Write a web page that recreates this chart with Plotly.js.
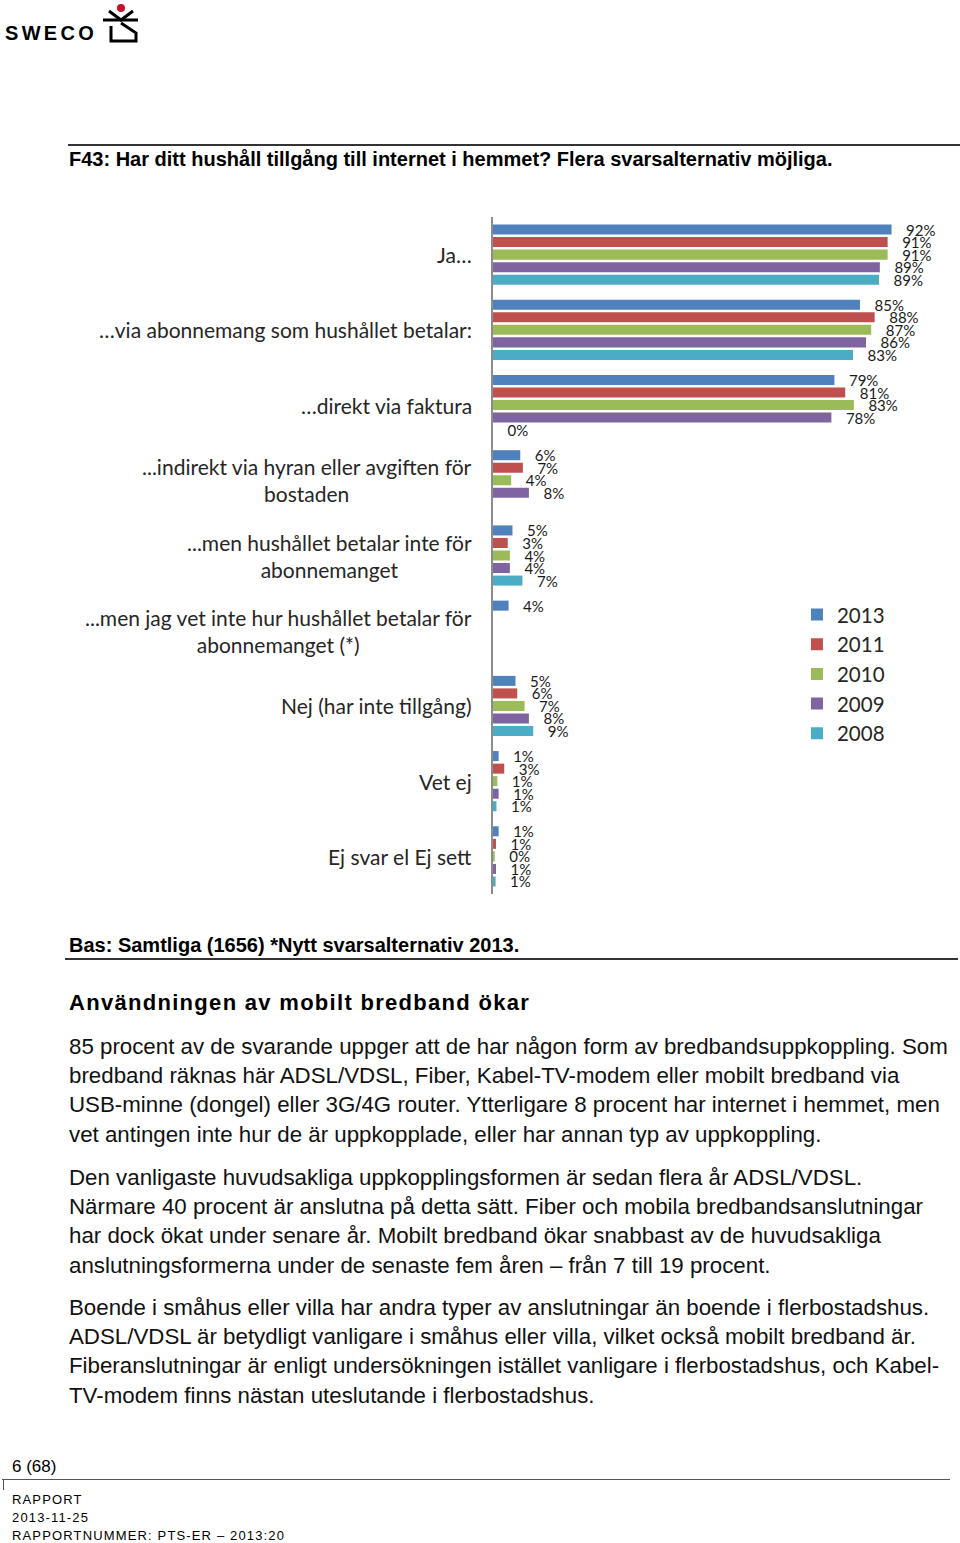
<!DOCTYPE html>
<html>
<head>
<meta charset="utf-8">
<script src="https://cdn.plot.ly/plotly-3.0.1.min.js"></script>
<style>
  html, body { margin:0; padding:0; }
  body { width:960px; height:1543px; position:relative; background:#fff; overflow:hidden;
         font-family:"Liberation Sans", Arial, sans-serif; color:#000; }
  .abs { position:absolute; white-space:nowrap; }
  .rule { position:absolute; background:#333; }
  #chart { position:absolute; left:0; top:200px; width:960px; height:720px; }
  .para { position:absolute; left:69px; font-size:22.3px; line-height:29.2px; white-space:nowrap; color:#111; }
</style>
</head>
<body>

<div class="abs" style="left:5px; top:20px; font-size:20px; font-weight:bold; letter-spacing:3.3px; line-height:26px;">SWECO</div>
<svg class="abs" style="left:100px; top:0px;" width="42" height="46" viewBox="100 0 42 46">
  <circle cx="121" cy="8" r="4" fill="#c8102e"/>
  <path d="M109 11 L121 20 L133 11" stroke="#000" stroke-width="3" fill="none"/>
  <path d="M103 20 L138 20" stroke="#000" stroke-width="3"/>
  <path d="M111 26 L111 41 L136 41 L136 33 L121 23" stroke="#000" stroke-width="3" fill="none"/>
</svg>

<div class="rule" style="left:68px; top:144px; width:892px; height:2px;"></div>
<div class="abs" style="left:69px; top:148px; font-size:20px; font-weight:bold; line-height:22px;">F43: Har ditt hushåll tillgång till internet i hemmet? Flera svarsalternativ möjliga.</div>

<div id="chart"></div>

<div class="abs" style="left:69px; top:934px; font-size:20px; font-weight:bold; line-height:22px;">Bas: Samtliga (1656) *Nytt svarsalternativ 2013.</div>
<div class="rule" style="left:65px; top:958px; width:893px; height:2px;"></div>

<div class="abs" style="left:69px; top:989px; font-size:22px; font-weight:bold; letter-spacing:1.3px; line-height:27px;">Användningen av mobilt bredband ökar</div>

<div class="para" style="top:1032px;">85 procent av de svarande uppger att de har någon form av bredbandsuppkoppling. Som<br>bredband räknas här ADSL/VDSL, Fiber, Kabel-TV-modem eller mobilt bredband via<br>USB-minne (dongel) eller 3G/4G router. Ytterligare 8 procent har internet i hemmet, men<br>vet antingen inte hur de är uppkopplade, eller har annan typ av uppkoppling.</div>
<div class="para" style="top:1163px;">Den vanligaste huvudsakliga uppkopplingsformen är sedan flera år ADSL/VDSL.<br>Närmare 40 procent är anslutna på detta sätt. Fiber och mobila bredbandsanslutningar<br>har dock ökat under senare år. Mobilt bredband ökar snabbast av de huvudsakliga<br>anslutningsformerna under de senaste fem åren – från 7 till 19 procent.</div>
<div class="para" style="top:1293px;">Boende i småhus eller villa har andra typer av anslutningar än boende i flerbostadshus.<br>ADSL/VDSL är betydligt vanligare i småhus eller villa, vilket också mobilt bredband är.<br>Fiberanslutningar är enligt undersökningen istället vanligare i flerbostadshus, och Kabel-<br>TV-modem finns nästan uteslutande i flerbostadshus.</div>

<div class="abs" style="left:12px; top:1456px; font-size:17px; line-height:22px;">6 (68)</div>
<div class="rule" style="left:2px; top:1479px; width:948px; height:1px; background:#555;"></div>
<div class="rule" style="left:3px; top:1479px; width:1px; height:11px; background:#555;"></div>
<div class="abs" style="left:12px; top:1491px; font-size:13px; line-height:18px; letter-spacing:1.15px;">RAPPORT<br>2013-11-25<br>RAPPORTNUMMER: PTS-ER – 2013:20</div>

<script>
// ---- data ----
const categories = [
  'Ja…',
  '…via abonnemang som hushållet betalar:',
  '…direkt via faktura',
  '...indirekt via hyran eller avgiften för<br>bostaden',
  '...men hushållet betalar inte för<br>abonnemanget',
  '...men jag vet inte hur hushållet betalar för<br>abonnemanget (*)',
  'Nej (har inte tillgång)',
  'Vet ej',
  'Ej svar el Ej sett'
];
const seriesNames = ['2013', '2011', '2010', '2009', '2008'];
const v2013 = [92.1, 84.8, 78.9, 6.3, 4.5, 3.6, 5.2, 1.3, 1.3];
const v2011 = [91.2, 88.2, 81.4, 6.9, 3.4, null, 5.6, 2.6, 0.7];
const v2010 = [91.2, 87.4, 83.4, 4.2, 3.9, null, 7.3, 1.0, 0.4];
const v2009 = [89.4, 86.2, 78.2, 8.3, 3.9, null, 8.3, 1.3, 0.7];
const v2008 = [89.2, 83.2, 0, null, 6.8, null, 9.3, 0.8, 0.6];
const seriesValues = [v2013, v2011, v2010, v2009, v2008];
const seriesColors = ['#4F81BD', '#C0504D', '#9BBB59', '#8064A2', '#4BACC6'];

const NB = '\u00a0\u00a0\u00a0';
const traces = seriesNames.map((name, i) => ({
  type: 'bar',
  orientation: 'h',
  name: name,
  y: categories,
  x: seriesValues[i],
  marker: { color: seriesColors[i] },
  text: seriesValues[i].map(v => v == null ? '' : NB + Math.round(v) + '%'),
  textposition: 'outside',
  constraintext: 'none',
  cliponaxis: false,
  textfont: { family: 'Lato, "Open Sans", sans-serif', size: 15, color: '#1a1a1a' },
  hoverinfo: 'skip'
}));

const annotations = categories.map(c => ({
  xref: 'paper', yref: 'y', x: 0, y: c,
  xanchor: 'right', yanchor: 'middle', xshift: -19,
  text: c, align: 'center', showarrow: false,
  font: { family: 'Lato, "Open Sans", sans-serif', size: 21, color: '#262626' }
}));

const layout = {
  width: 960, height: 720,
  margin: { l: 493, r: 20, t: 17, b: 26, pad: 0 },
  paper_bgcolor: 'rgba(0,0,0,0)',
  plot_bgcolor: 'rgba(0,0,0,0)',
  barmode: 'group',
  bargap: 0.1667,
  bargroupgap: 0.2,
  showlegend: true,
  legend: {
    x: 0.68, xanchor: 'left', y: 0.442, yanchor: 'top',
    font: { family: 'Lato, "Open Sans", sans-serif', size: 20.5, color: '#262626' },
    bgcolor: 'rgba(0,0,0,0)', traceorder: 'normal'
  },
  xaxis: { range: [0, 103.3], visible: false, fixedrange: true },
  yaxis: {
    type: 'category', autorange: 'reversed', showticklabels: false,
    ticks: '', showgrid: false, zeroline: false,
    showline: true, linecolor: '#8c8c8c', linewidth: 2, fixedrange: true
  },
  annotations: annotations
};

Plotly.newPlot('chart', traces, layout, { displayModeBar: false, staticPlot: true });
</script>
</body>
</html>
